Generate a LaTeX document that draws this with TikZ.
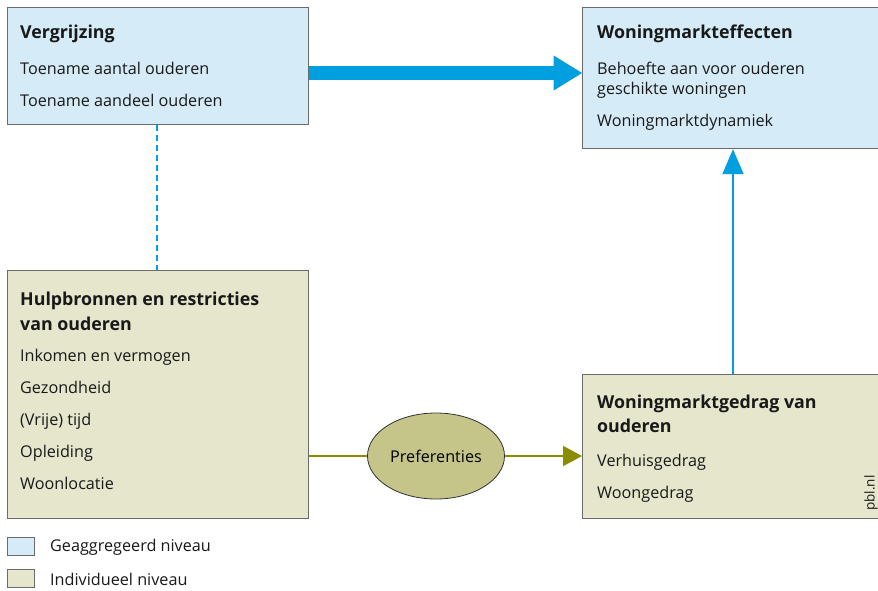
\documentclass[tikz,border=0pt]{standalone}
\usepackage{fontspec}
\setmainfont{Open Sans}
\usetikzlibrary{arrows.meta,shapes.geometric}
\definecolor{boxblue}{HTML}{D5EBF8}
\definecolor{boxbeige}{HTML}{E6E6CC}
\definecolor{ellfill}{HTML}{C5C58A}
\definecolor{olive}{HTML}{8C8C00}
\definecolor{arrblue}{HTML}{009FE0}
\definecolor{border}{HTML}{6B6B6B}
\tikzset{
  box/.style={draw=border,line width=1.2pt,rectangle,inner sep=0pt,anchor=north west},
  bluebox/.style={box,fill=boxblue},
  beigebox/.style={box,fill=boxbeige},
  ttl/.style={anchor=base west,inner sep=0pt,font=\fontsize{17.8}{20}\selectfont\bfseries,text=black!90},
  txt/.style={anchor=base west,inner sep=0pt,font=\fontsize{16.2}{19}\selectfont,text=black!90},
  legbox/.style={draw=border,line width=1pt,inner sep=0pt,minimum width=27pt,minimum height=18pt,anchor=north west},
}
\begin{document}
\begin{tikzpicture}[x=1pt,y=-1pt]
\useasboundingbox[fill=white] (0,0) rectangle (878,591);
% boxes
\node[bluebox,minimum width=301pt,minimum height=117pt] (verg) at (7,7) {};
\node[bluebox,minimum width=300pt,minimum height=141pt] (eff) at (582,7) {};
\node[beigebox,minimum width=301pt,minimum height=248pt] (hulp) at (7,270) {};
\node[beigebox,minimum width=300pt,minimum height=144pt] (gedr) at (582,374) {};
% texts
\node[ttl] (t1) at (20,38.5) {Vergrijzing};
\node[txt] (t1a) at (20,74.5) {Toename aantal ouderen};
\node[txt] (t1b) at (20,106.5) {Toename aandeel ouderen};
\node[ttl] (t2) at (597,38.5) {Woningmarkteffecten};
\node[txt] (t2a) at (597,74.5) {Behoefte aan voor ouderen};
\node[txt] (t2b) at (597,94.5) {geschikte woningen};
\node[txt] (t2c) at (597,126.5) {Woningmarktdynamiek};
\node[ttl] (t3) at (20,305.5) {Hulpbronnen en restricties};
\node[ttl] (t3x) at (20,330.5) {van ouderen};
\node[txt] (t3a) at (20,361.5) {Inkomen en vermogen};
\node[txt] (t3b) at (20,393.5) {Gezondheid};
\node[txt] (t3c) at (20,425.5) {(Vrije) tijd};
\node[txt] (t3d) at (20,457.5) {Opleiding};
\node[txt] (t3e) at (20,489.5) {Woonlocatie};
\node[ttl] (t4) at (597,408.5) {Woningmarktgedrag van};
\node[ttl] (t4x) at (597,432.5) {ouderen};
\node[txt] (t4a) at (597,466.5) {Verhuisgedrag};
\node[txt] (t4b) at (597,498.5) {Woongedrag};
\node[inner sep=0pt,rotate=90,anchor=center,font=\fontsize{13.5}{15}\selectfont,text=black!90] (pbl) at (871,493) {pbl.nl};
% ellipse
\node[ellipse,draw=black!80,line width=0.8pt,fill=ellfill,minimum width=137pt,minimum height=86pt,inner sep=0pt,font=\fontsize{16.2}{19}\selectfont] (pref) at (436,456) {Preferenties};
% connectors
\draw[arrblue,line width=14pt,-{Triangle[length=29pt,width=33pt]},shorten >=-0.5pt] (verg.east |- 0,73) -- (eff.west |- 0,73);
\draw[arrblue,line width=2pt,dash pattern=on 6pt off 4pt] (verg.south -| 157,0) -- (hulp.north -| 157,0);
\draw[arrblue,line width=2pt,-{Triangle[length=25pt,width=21pt]}] (gedr.north -| 733,0) -- (eff.south -| 733,0);
\draw[olive,line width=2pt] (hulp.east |- pref.west) -- (pref.west);
\draw[olive,line width=2pt,-{Triangle[length=19pt,width=20pt]}] (pref.east) -- (gedr.west |- pref.east);
% legend
\node[legbox,fill=boxblue] (lg1) at (7,537) {};
\node[legbox,fill=boxbeige] (lg2) at (7,569) {};
\node[txt,anchor=west] (lt1) at (50,547) {Geaggregeerd niveau};
\node[txt,anchor=west] (lt2) at (50,579) {Individueel niveau};
\end{tikzpicture}
\end{document}
